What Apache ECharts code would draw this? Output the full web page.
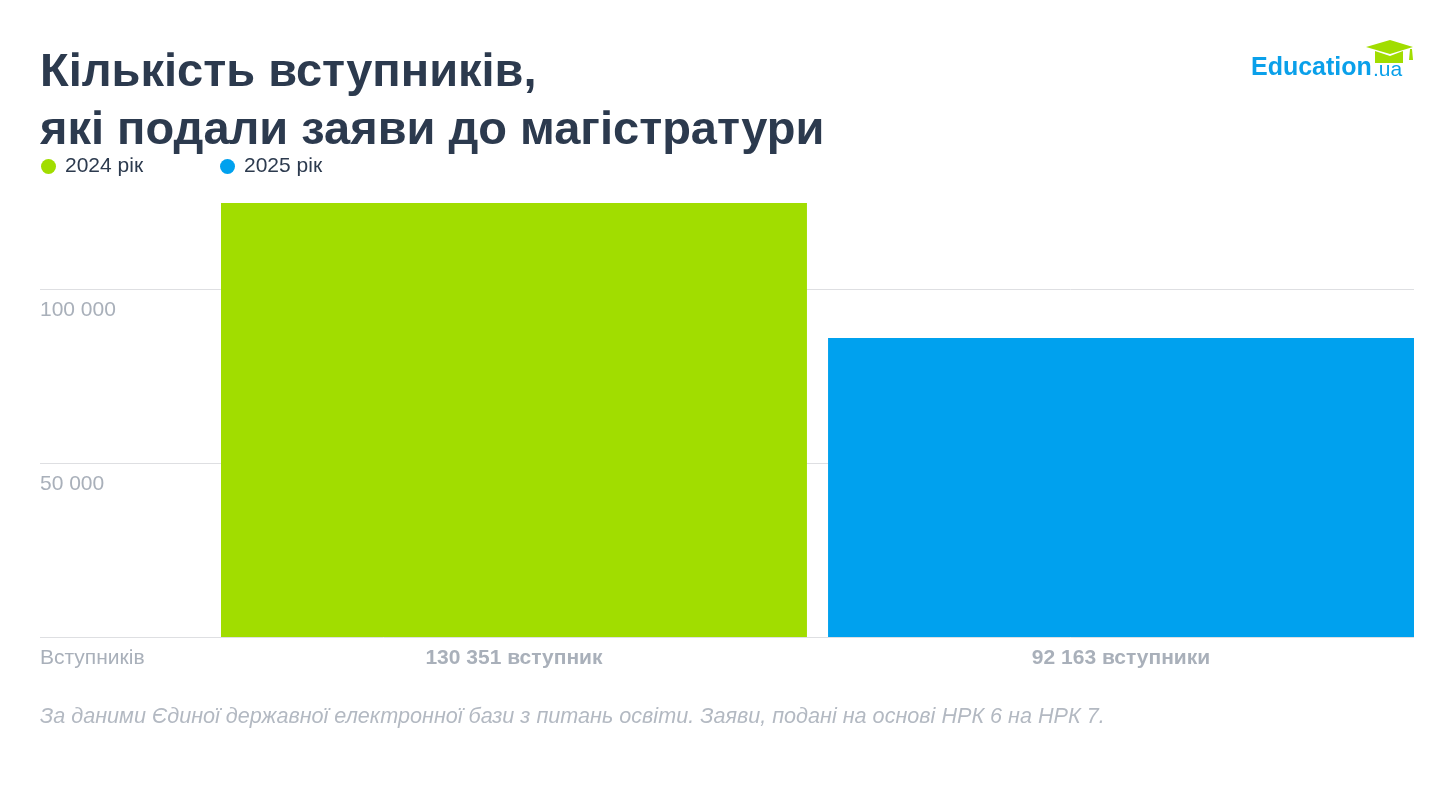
<!DOCTYPE html>
<html>
<head>
<meta charset="utf-8">
<script src="https://cdn.jsdelivr.net/npm/echarts@6/dist/echarts.min.js"></script>
<style>
  html, body { margin: 0; padding: 0; background: #fff; }
  #chart { width: 1454px; height: 799px; }
</style>
</head>
<body>
<div id="chart"></div>
<script>
// data
var seriesNames = ['2024 рік', '2025 рік'];
var values2024 = [124700];
var values2025 = [85900];
var barLabels = ['130 351 вступник', '92 163 вступники'];
var yTicks = [0, 50000, 100000, 150000];
var zeroLabel = 'Вступників';

var FONT = 'Liberation Sans';
var GRID_TOP = 115;
var GRID_BOTTOM = 162;

var chart = echarts.init(document.getElementById('chart'));

function fmt(v) {
  if (v === 0) return zeroLabel;
  return String(v).replace(/\B(?=(\d{3})+(?!\d))/g, ' ');
}

var legendText = { fontFamily: FONT, fontSize: 21, color: '#2c3a4e', padding: [0, 0, 0, 4] };

chart.setOption({
  backgroundColor: '#ffffff',
  textStyle: { fontFamily: FONT },
  title: [{
    text: 'Кількість вступників,\nякі подали заяви до магістратури',
    left: 40,
    top: 44,
    padding: 0,
    textStyle: {
      fontFamily: FONT,
      fontSize: 47,
      fontWeight: 'bold',
      color: '#2c3a4e',
      lineHeight: 58
    }
  }, {
    text: 'За даними Єдиної державної електронної бази з питань освіти. Заяви, подані на основі НРК 6 на НРК 7.',
    left: 40,
    top: 706,
    padding: 0,
    textStyle: {
      fontFamily: FONT,
      fontSize: 21.6,
      fontWeight: 'normal',
      fontStyle: 'italic',
      color: '#b3b9c2'
    }
  }],
  legend: [{
    data: [seriesNames[0]],
    left: 41,
    top: 156,
    padding: 0,
    icon: 'circle',
    itemWidth: 15,
    itemHeight: 15,
    textStyle: legendText
  }, {
    data: [seriesNames[1]],
    left: 220,
    top: 156,
    padding: 0,
    icon: 'circle',
    itemWidth: 15,
    itemHeight: 15,
    textStyle: legendText
  }],
  grid: [
    { left: 40, right: 40, top: GRID_TOP, bottom: GRID_BOTTOM },
    { left: 221, right: 40, top: GRID_TOP, bottom: GRID_BOTTOM }
  ],
  xAxis: [{
    gridIndex: 0,
    type: 'value',
    min: 0,
    max: 1,
    show: false
  }, {
    gridIndex: 1,
    type: 'category',
    data: [''],
    axisLine: { show: false },
    axisTick: { show: false },
    axisLabel: { show: false }
  }],
  yAxis: [{
    gridIndex: 0,
    type: 'value',
    min: yTicks[0],
    max: yTicks[yTicks.length - 1],
    interval: yTicks[1] - yTicks[0],
    axisLine: { show: false },
    axisTick: { show: false },
    splitLine: {
      show: true,
      showMinLine: true,
      showMaxLine: false,
      lineStyle: { color: '#dedfe2', width: 1 }
    },
    axisLabel: {
      inside: true,
      margin: 0,
      showMaxLabel: false,
      verticalAlign: 'top',
      padding: [11, 0, 0, 0],
      fontFamily: FONT,
      fontSize: 21,
      color: '#a9b0ba',
      formatter: fmt
    }
  }, {
    gridIndex: 1,
    type: 'value',
    min: yTicks[0],
    max: yTicks[yTicks.length - 1],
    show: false
  }],
  series: [{
    name: seriesNames[0],
    type: 'bar',
    xAxisIndex: 1,
    yAxisIndex: 1,
    data: values2024,
    barCategoryGap: '0%',
    barGap: '3.6%',
    itemStyle: { color: '#a1dd00' },
    label: {
      show: true,
      position: 'bottom',
      distance: 11,
      fontFamily: FONT,
      fontSize: 21,
      fontWeight: 'bold',
      color: '#a9b0ba',
      formatter: function () { return barLabels[0]; }
    }
  }, {
    name: seriesNames[1],
    type: 'bar',
    xAxisIndex: 1,
    yAxisIndex: 1,
    data: values2025,
    barCategoryGap: '0%',
    barGap: '3.6%',
    itemStyle: { color: '#00a1ee' },
    label: {
      show: true,
      position: 'bottom',
      distance: 11,
      fontFamily: FONT,
      fontSize: 21,
      fontWeight: 'bold',
      color: '#a9b0ba',
      formatter: function () { return barLabels[1]; }
    }
  }],
  graphic: [{
    type: 'text',
    left: 1251,
    top: 56,
    style: {
      text: 'Education',
      fill: '#0aa0ea',
      font: 'bold 25px ' + FONT
    }
  }, {
    type: 'text',
    left: 1373,
    top: 60,
    style: {
      text: '.ua',
      fill: '#0aa0ea',
      font: '21px ' + FONT
    }
  }, {
    type: 'polygon',
    shape: { points: [[1366, 47], [1390, 40], [1413, 47], [1390, 54]] },
    style: { fill: '#a1dd00' }
  }, {
    type: 'polygon',
    shape: { points: [[1375, 51], [1390, 56], [1403, 51], [1403, 63], [1375, 63]] },
    style: { fill: '#a1dd00' }
  }, {
    type: 'polygon',
    shape: { points: [[1410, 49], [1412, 49], [1413, 60], [1409, 60]] },
    style: { fill: '#a1dd00' }
  }]
});
</script>
</body>
</html>
